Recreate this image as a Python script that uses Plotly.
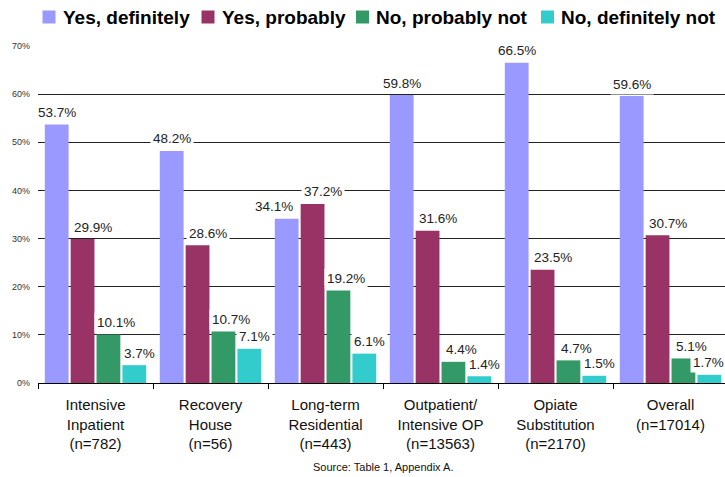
import plotly.graph_objects as go

categories = [
    "Intensive<br>Inpatient<br>(n=782)",
    "Recovery<br>House<br>(n=56)",
    "Long-term<br>Residential<br>(n=443)",
    "Outpatient/<br>Intensive OP<br>(n=13563)",
    "Opiate<br>Substitution<br>(n=2170)",
    "Overall<br>(n=17014)",
]
series_names = ["Yes, definitely", "Yes, probably", "No, probably not", "No, definitely not"]
yes_definitely = [53.7, 48.2, 34.1, 59.8, 66.5, 59.6]
yes_probably = [29.9, 28.6, 37.2, 31.6, 23.5, 30.7]
no_probably_not = [10.1, 10.7, 19.2, 4.4, 4.7, 5.1]
no_definitely_not = [3.7, 7.1, 6.1, 1.4, 1.5, 1.7]
y_ticks = [0, 10, 20, 30, 40, 50, 60, 70]
source_text = "Source: Table 1, Appendix A."

series_values = [yes_definitely, yes_probably, no_probably_not, no_definitely_not]
colors = ["#9999FF", "#993366", "#339966", "#33CCCC"]
# label horizontal nudges (px) per series, like the original layout
label_shift = [0, 10, 8, 5]
label_override = {(0, 2): -13, (3, 5): -1}

W, H = 725, 477
ML, MR, MT, MB = 38, 0, 46, 94
PW = W - ML - MR
PH = H - MT - MB
cat_px = 115.0

bargap = 0.1
bargroupgap = 0.08
n = len(series_names)
slot = (1 - bargap) / n
offsets = [-(1 - bargap) / 2 + slot * (k + 0.5) for k in range(n)]

def xp(px):
    return (px - ML) / PW

def yp(py):
    return (H - MB - py) / PH

fig = go.Figure()
for k, (name, vals) in enumerate(zip(series_names, series_values)):
    fig.add_trace(go.Bar(
        x=categories, y=vals, name=name,
        marker=dict(color=colors[k], line=dict(width=0)),
        showlegend=False,
    ))

annotations = []
for k, vals in enumerate(series_values):
    for i, v in enumerate(vals):
        annotations.append(dict(
            x=i + offsets[k], y=v, xref="x", yref="y",
            text=f"{v:.1f}%", showarrow=False,
            yanchor="middle", xanchor="center",
            yshift=12, xshift=label_override.get((k, i), label_shift[k]),
            bgcolor="white", borderpad=2, borderwidth=1, bordercolor="rgba(0,0,0,0)",
            font=dict(size=13.5, color="#222222"),
        ))

# manual legend
legend_sq_x = [42.5, 201.5, 356, 541]
shapes = []
for k, name in enumerate(series_names):
    x0 = legend_sq_x[k]
    shapes.append(dict(
        type="rect", xref="paper", yref="paper",
        x0=xp(x0), x1=xp(x0 + 13), y0=yp(23.5), y1=yp(10.5),
        fillcolor=colors[k], line=dict(width=0),
    ))
    annotations.append(dict(
        x=xp(x0 + 18), y=yp(17), xref="paper", yref="paper",
        text=f"<b>{name}</b>", showarrow=False,
        xanchor="left", yanchor="middle",
        font=dict(size=19, color="black"),
    ))

annotations.append(dict(
    x=xp(383), y=yp(467), xref="paper", yref="paper",
    text=source_text, showarrow=False, xanchor="center", yanchor="middle",
    font=dict(size=11, color="#111111"),
))

fig.update_layout(
    width=W, height=H,
    margin=dict(l=ML, r=MR, t=MT, b=MB, pad=0),
    paper_bgcolor="white", plot_bgcolor="white",
    font=dict(family="Arial, Liberation Sans, sans-serif", color="#111111"),
    barmode="group", bargap=bargap, bargroupgap=bargroupgap,
    annotations=annotations, shapes=shapes,
    showlegend=False,
)
fig.update_xaxes(
    type="category",
    range=[-0.5, -0.5 + PW / cat_px],
    showline=True, linecolor="black", linewidth=1,
    ticks="outside", tickson="boundaries", ticklen=5, tickcolor="black", tickwidth=1,
    tickfont=dict(size=15, color="#111111"),
    ticklabelstandoff=8,
    showgrid=False, zeroline=False,
)
fig.update_yaxes(
    range=[0, 70], tickvals=y_ticks, ticktext=[f"{t}%" for t in y_ticks],
    showgrid=True, gridcolor="#222222", gridwidth=1,
    showline=False, zeroline=False, ticks="",
    tickfont=dict(size=9, color="#333333"),
    ticklabelstandoff=7,
)

fig.write_html("out.html")
